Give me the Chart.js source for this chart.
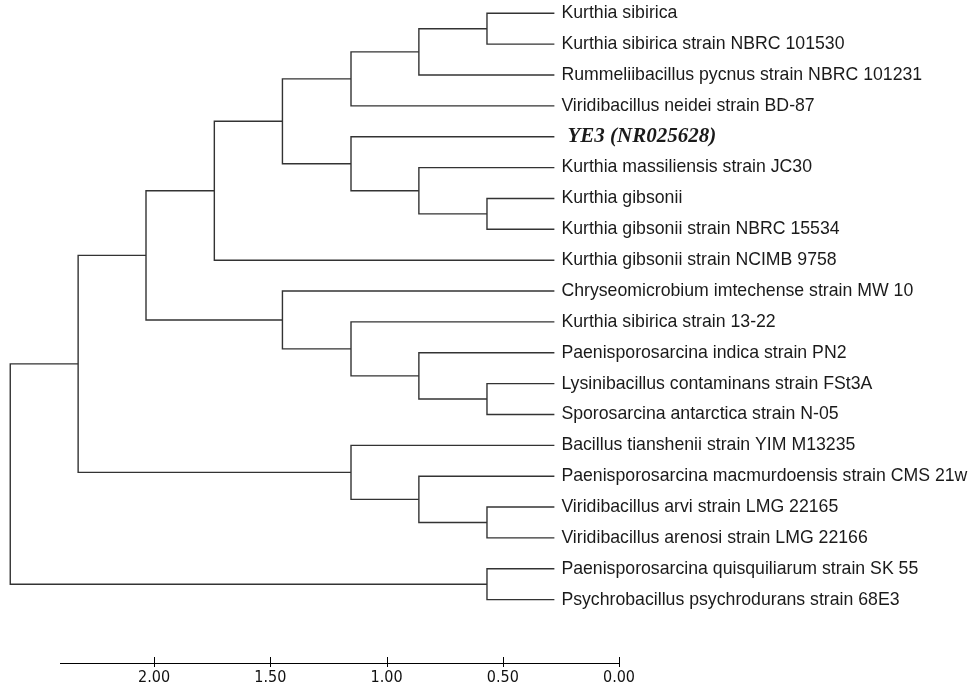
<!DOCTYPE html>
<html>
<head>
<meta charset="utf-8">
<script src="https://cdn.jsdelivr.net/npm/chart.js@4"></script>
<style>
  html, body { margin: 0; padding: 0; background: #fff; }
  #wrap { width: 975px; height: 693px; }
</style>
</head>
<body>
<div id="wrap"><canvas id="tree" width="975" height="693"></canvas></div>
<script>
// leaf labels, top to bottom
const leafNames = [
  "Kurthia sibirica",
  "Kurthia sibirica strain NBRC 101530",
  "Rummeliibacillus pycnus strain NBRC 101231",
  "Viridibacillus neidei strain BD-87",
  "YE3 (NR025628)",
  "Kurthia massiliensis strain JC30",
  "Kurthia gibsonii",
  "Kurthia gibsonii strain NBRC 15534",
  "Kurthia gibsonii strain NCIMB 9758",
  "Chryseomicrobium imtechense strain MW 10",
  "Kurthia sibirica strain 13-22",
  "Paenisporosarcina indica strain PN2",
  "Lysinibacillus contaminans strain FSt3A",
  "Sporosarcina antarctica strain N-05",
  "Bacillus tianshenii strain YIM M13235",
  "Paenisporosarcina macmurdoensis strain CMS 21w",
  "Viridibacillus arvi strain LMG 22165",
  "Viridibacillus arenosi strain LMG 22166",
  "Paenisporosarcina quisquiliarum strain SK 55",
  "Psychrobacillus psychrodurans strain 68E3"
];
const highlightLeaf = 4;

// tips sit at this distance on the scale
const leafHeight = 0.278;

// merges: number = leaf index, "nK" = result of merge K
const mergeA = [0,    "n0", "n1", 6,    5,    4,    "n2", "n6", 12,   11,   10,   9,     "n7",  16,   15,   14,   "n12", 18,   "n16"];
const mergeB = [1,    2,    3,    7,    "n3", "n4", "n5", 8,    13,   "n8", "n9", "n10", "n11", 17,   "n13","n14","n15", 19,   "n17"];
const mergeHeight = [0.568, 0.861, 1.153, 0.568, 0.861, 1.153, 1.448, 1.741, 0.568, 0.861, 1.153, 1.448, 2.035, 0.568, 0.861, 1.153, 2.327, 0.568, 2.619];

const tickValues = [0, 0.5, 1, 1.5, 2];
const axisMax = 2.405;

// work out each node's position and build one bracket per merge
const nodeX = [], nodeY = [];
function pos(ref) {
  if (typeof ref === "number") return { x: leafHeight, y: ref };
  const k = parseInt(ref.slice(1));
  return { x: nodeX[k], y: nodeY[k] };
}
const datasets = [];
for (let k = 0; k < mergeHeight.length; k++) {
  const a = pos(mergeA[k]), b = pos(mergeB[k]);
  const h = mergeHeight[k];
  nodeX[k] = h;
  nodeY[k] = (a.y + b.y) / 2;
  datasets.push({
    data: [{ x: a.x, y: a.y }, { x: h, y: a.y }, { x: h, y: b.y }, { x: b.x, y: b.y }],
    showLine: true,
    borderColor: "#333",
    borderWidth: 1.4,
    pointRadius: 0,
    tension: 0,
    clip: false
  });
}

const leafLabels = {
  id: "leafLabels",
  afterDatasetsDraw(chart) {
    const { ctx, scales: { x, y } } = chart;
    ctx.save();
    ctx.textBaseline = "middle";
    ctx.fillStyle = "#1a1a1a";
    leafNames.forEach((name, i) => {
      const px = x.getPixelForValue(leafHeight);
      const py = y.getPixelForValue(i);
      if (i === highlightLeaf) {
        ctx.font = "italic bold 21px 'Liberation Serif', 'Times New Roman', serif";
        ctx.fillText(name, px + 13, py);
      } else {
        ctx.font = "17.7px 'Liberation Sans', Arial, sans-serif";
        ctx.fillText(name, px + 7, py);
      }
    });
    ctx.restore();
  }
};

const axisTicks = {
  id: "axisTicks",
  afterDraw(chart) {
    const { ctx, chartArea, scales: { x } } = chart;
    ctx.save();
    ctx.strokeStyle = "#000";
    ctx.lineWidth = 1;
    tickValues.forEach(v => {
      const px = Math.round(x.getPixelForValue(v)) + 0.5;
      ctx.beginPath();
      ctx.moveTo(px, chartArea.bottom - 6);
      ctx.lineTo(px, chartArea.bottom + 4);
      ctx.stroke();
    });
    ctx.restore();
  }
};

new Chart(document.getElementById("tree"), {
  type: "scatter",
  data: { datasets },
  plugins: [leafLabels, axisTicks],
  options: {
    responsive: false,
    animation: false,
    devicePixelRatio: 1,
    layout: { padding: { left: 60, right: 356, top: 0, bottom: 0 } },
    plugins: { legend: { display: false }, tooltip: { enabled: false } },
    scales: {
      x: {
        type: "linear",
        reverse: true,
        min: 0,
        max: axisMax,
        afterBuildTicks: s => { s.ticks = tickValues.map(v => ({ value: v })); },
        afterFit: s => { s.height = 30; },
        grid: { display: false, drawTicks: false },
        border: { display: true, color: "#000", width: 1 },
        ticks: {
          padding: 5,
          color: "#111",
          maxRotation: 0,
          font: { family: "'Liberation Sans Narrow', 'DejaVu Sans Condensed', Arial, sans-serif", size: 16 },
          callback: v => Number(v).toFixed(2)
        }
      },
      y: {
        type: "linear",
        display: false,
        reverse: true,
        min: -0.431,
        max: 21.053
      }
    }
  }
});
</script>
</body>
</html>
